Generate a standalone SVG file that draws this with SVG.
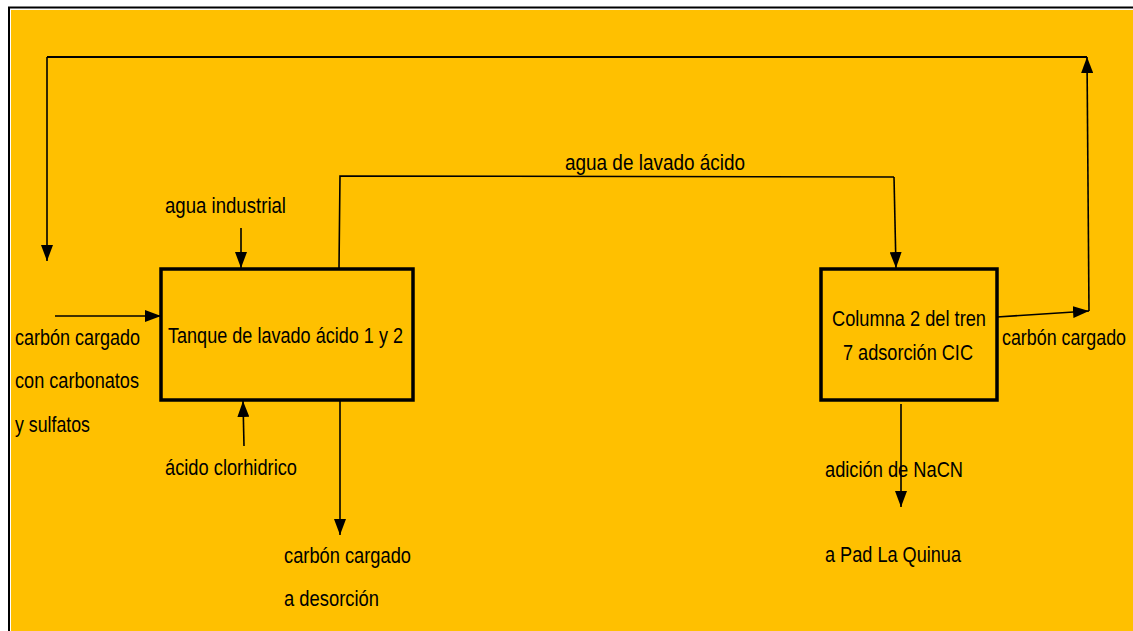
<svg xmlns="http://www.w3.org/2000/svg" width="1133" height="631" viewBox="0 0 1133 631">
  <defs>
    <marker id="arrow" markerUnits="userSpaceOnUse" markerWidth="16" markerHeight="12" refX="16" refY="6" orient="auto">
      <path d="M0,0 L16,6 L0,12 z" fill="#000"/>
    </marker>
    <style>
      .frame { fill: none; stroke: #000; stroke-width: 2; }
      .bg { fill: #FFC000; }
      .box { fill: none; stroke: #000; stroke-width: 3.5; }
      .flow { fill: none; stroke: #000; stroke-width: 1.6; }
      .flow-arrow { fill: none; stroke: #000; stroke-width: 1.6; marker-end: url(#arrow); }
      text { font-family: "Liberation Sans", Arial, sans-serif; font-size: 21.5px; fill: #000; }
      .edge { font-size: 18px; }
    </style>
  </defs>

  <!-- page frame and background -->
  <rect x="0" y="0" width="1133" height="631" fill="#fff"/>
  <rect class="frame" x="9" y="7.5" width="1200" height="700"/>
  <rect class="bg" x="11" y="10" width="1200" height="700"/>

  <!-- connectors -->
  <g id="connectors">
    <!-- recycle loop: column output back to tank feed -->
    <path class="flow-arrow" d="M997,317 L1089,311"/>
    <path class="flow-arrow" d="M1089,311 L1087,57"/>
    <path class="flow" d="M1087,57 L47,57" style="stroke-width:2"/>
    <path class="flow-arrow" d="M47,57 L47,261"/>
    <!-- loaded carbon feed into tank -->
    <path class="flow-arrow" d="M55,316 L161,316"/>
    <!-- industrial water -->
    <path class="flow-arrow" d="M241,228 L241,268"/>
    <!-- hydrochloric acid -->
    <path class="flow-arrow" d="M244,446 L243,401"/>
    <!-- tank output to desorption -->
    <path class="flow-arrow" d="M340,401 L340,535"/>
    <!-- acid wash water to column -->
    <path class="flow" d="M339,268 L340,176 L894,177"/>
    <path class="flow-arrow" d="M894,177 L896,268"/>
    <!-- column output -->
    <path class="flow-arrow" d="M901,404 L901,507"/>
  </g>

  <!-- tank node -->
  <g id="tanque">
    <rect class="box" x="161" y="269" width="252" height="131"/>
    <text x="168" y="343" textLength="235" lengthAdjust="spacingAndGlyphs">Tanque de lavado ácido 1 y 2</text>
  </g>

  <!-- column node -->
  <g id="columna">
    <rect class="box" x="821" y="269" width="176" height="131"/>
    <text x="832" y="326" textLength="154" lengthAdjust="spacingAndGlyphs">Columna 2 del tren</text>
    <text x="843" y="360" textLength="130" lengthAdjust="spacingAndGlyphs">7 adsorción CIC</text>
  </g>

  <!-- stream labels -->
  <g id="label-agua-industrial">
    <text x="165" y="213" textLength="121" lengthAdjust="spacingAndGlyphs">agua industrial</text>
  </g>
  <g id="label-agua-lavado">
    <text x="565" y="170" textLength="180" lengthAdjust="spacingAndGlyphs">agua de lavado ácido</text>
  </g>
  <g id="label-alimentacion">
    <text x="15" y="345" textLength="125" lengthAdjust="spacingAndGlyphs">carbón cargado</text>
    <text x="15" y="388" textLength="124" lengthAdjust="spacingAndGlyphs">con carbonatos</text>
    <text x="15" y="432" textLength="75" lengthAdjust="spacingAndGlyphs">y sulfatos</text>
  </g>
  <g id="label-acido">
    <text x="165" y="475" textLength="132" lengthAdjust="spacingAndGlyphs">ácido clorhidrico</text>
  </g>
  <g id="label-desorcion">
    <text x="284" y="563" textLength="127" lengthAdjust="spacingAndGlyphs">carbón cargado</text>
    <text x="284" y="606" textLength="95" lengthAdjust="spacingAndGlyphs">a desorción</text>
  </g>
  <g id="label-carbon-salida">
    <!-- slightly smaller font stretched vertically so the label stays inside the page edge -->
    <text class="edge" x="1002" y="345" textLength="124" lengthAdjust="spacingAndGlyphs" transform="translate(0,345) scale(1,1.18) translate(0,-345)">carbón cargado</text>
  </g>
  <g id="label-nacn">
    <text x="825" y="477" textLength="138" lengthAdjust="spacingAndGlyphs">adición de NaCN</text>
  </g>
  <g id="label-pad">
    <text x="825" y="562" textLength="136" lengthAdjust="spacingAndGlyphs">a Pad La Quinua</text>
  </g>
</svg>
